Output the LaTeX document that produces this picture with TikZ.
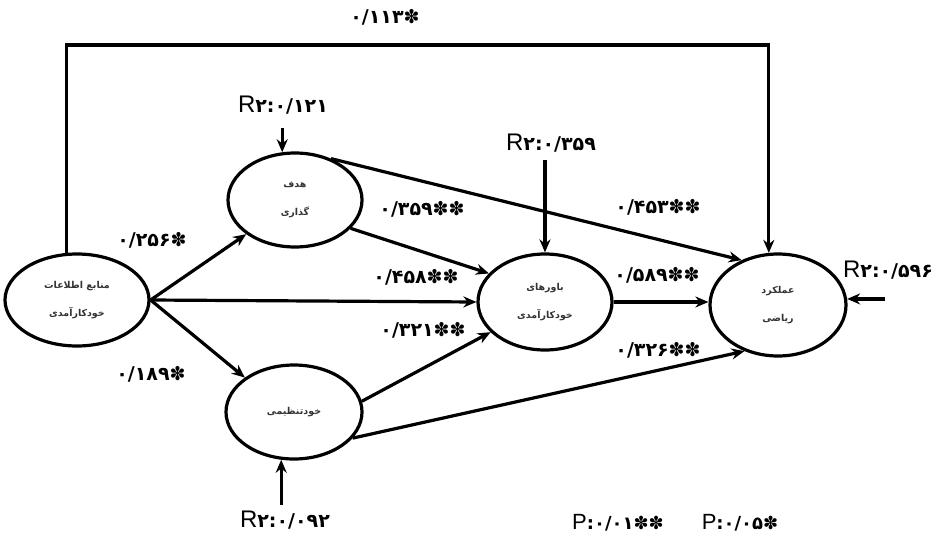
\documentclass[tikz,border=0pt]{standalone}
\usepackage{fontspec}
\usetikzlibrary{shapes.geometric,arrows.meta,calc}
\TeXXeTstate=1
\newfontfamily\arabicfont[Script=Arabic]{DejaVu Sans}
\newfontfamily\digfont{DejaVu Sans}
\newfontfamily\latfont{Liberation Sans}
\newcommand\fa[1]{\beginR #1\endR}
\newcommand\rtwo[1]{{\latfont\fontsize{24}{24}\selectfont R}{\digfont\bfseries\fontsize{19}{19}\selectfont ۲:#1}}
\newcommand\pval[1]{{\latfont\fontsize{22}{22}\selectfont P}{\digfont\bfseries\fontsize{18}{18}\selectfont :#1}}
\begin{document}
\begin{tikzpicture}[x=1pt,y=-1pt,
  var/.style={ellipse,draw,line width=3.2pt,inner sep=0pt,align=center,
    font=\arabicfont\bfseries\fontsize{9.5}{28}\selectfont,text=black!80},
  arr/.style={line width=3.2pt,-{Stealth[length=13pt,width=11pt]}},
  lab/.style={inner sep=0pt,font=\digfont\bfseries\fontsize{19}{19}\selectfont}]
\useasboundingbox (0,0) rectangle (941,535);
\node[var,minimum width=144pt,minimum height=92pt] (A) at (77,300) {\fa{منابع اطلاعات}\\\fa{خودکارآمدی}};
\node[var,minimum width=134pt,minimum height=94pt] (B) at (295,200) {\fa{هدف}\\\fa{گذاری}};
\node[var,minimum width=134pt,minimum height=96pt] (C) at (545,302) {\fa{باورهای}\\\fa{خودکارآمدی}};
\node[var,minimum width=136pt,minimum height=102pt] (D) at (778,305) {\fa{عملکرد}\\\fa{ریاضی}};
\node[var,minimum width=136pt,minimum height=94pt] (E) at (294,412) {\fa{خودتنظیمی}};
% free ends
\coordinate (topline) at (0,45);
\coordinate (rbtop) at (0,128);
\coordinate (rctop) at (0,160);
\coordinate (rebot) at (0,505);
\coordinate (rdright) at (885,0);
% connectors
\draw[arr] (A.103) |- (topline -| D.100) -- (D.100);
\draw[arr] (A.east) -- (B.215);
\draw[arr] (A.east) -- (C.west);
\draw[arr] (A.east) -- (E.145);
\draw[arr] (B.-27) -- (C.153);
\draw[arr] (B.49) -- (D.129);
\draw[arr] (E.9) -- (C.209);
\draw[arr] (E.-24) -- (D.234);
\draw[arr] (C.east) -- (C.east -| D.west);
\draw[arr] (B.105 |- rbtop) -- (B.105);
\draw[arr] (C.north |- rctop) -- (C.north);
\draw[arr] (E.255 |- rebot) -- (E.255);
\draw[arr] (D.5 -| rdright) -- (D.5);
% labels
\node[lab] (l113) at (385,17) {۰/۱۱۳✽};
\node[lab] (l256) at (152,240) {۰/۲۵۶✽};
\node[lab] (l359) at (422,209) {۰/۳۵۹✽✽};
\node[lab] (l453) at (658,207) {۰/۴۵۳✽✽};
\node[lab] (l458) at (416,277) {۰/۴۵۸✽✽};
\node[lab] (l589) at (657,275) {۰/۵۸۹✽✽};
\node[lab] (l321) at (423,330) {۰/۳۲۱✽✽};
\node[lab] (l326) at (658,350) {۰/۳۲۶✽✽};
\node[lab] (l189) at (151,374) {۰/۱۸۹✽};
\node[inner sep=0pt] (rB) at (283,105) {\rtwo{۰/۱۲۱}};
\node[inner sep=0pt] (rC) at (551,143) {\rtwo{۰/۳۵۹}};
\node[inner sep=0pt] (rD) at (888,270) {\rtwo{۰/۵۹۶}};
\node[inner sep=0pt] (rE) at (285,520) {\rtwo{۰/۰۹۲}};
\node[inner sep=0pt] (p1) at (618,523) {\pval{۰/۰۱✽✽}};
\node[inner sep=0pt] (p2) at (740,523) {\pval{۰/۰۵✽}};
\end{tikzpicture}
\end{document}
